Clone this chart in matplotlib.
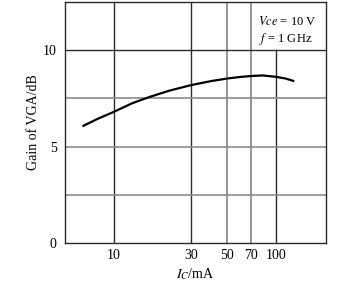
import matplotlib
matplotlib.use("Agg")
import matplotlib.pyplot as plt

plt.rcParams['font.family'] = ['Liberation Serif', 'DejaVu Serif']
plt.rcParams['mathtext.fontset'] = 'stix'

# gain curve
ic_ma = [6.5, 8, 10, 13, 16.7, 22, 30, 40, 50, 60, 70, 83, 100, 115, 128]
gain_db = [6.08, 6.45, 6.8, 7.25, 7.58, 7.9, 8.19, 8.4, 8.53, 8.61, 8.66, 8.69, 8.62, 8.53, 8.41]

dark_x = [10, 30]
gray_x = [50, 70]
gray_y = [2.5, 5, 7.5]
xtick_vals = [10, 30, 50, 70, 100]
xtick_labels = ['10', '30', '50', '70', '100']
ytick_vals = [0, 5, 10]

fig = plt.figure(figsize=(3.41, 2.87), dpi=100)
ax = fig.add_axes([65/341, 1-243/287, 261/341, 241/287])

ax.set_xscale('log')
ax.set_xlim(5, 204)
ax.set_ylim(0, 12.5)

dark = '#2a2a2a'
gray = '#8c8c8c'
for x in dark_x:
    ax.axvline(x, color=dark, lw=1.0, zorder=1)
for x in gray_x:
    ax.axvline(x, color=gray, lw=1.3, zorder=1)
# 100 line stops under the text box
ax.axvline(100, ymax=10/12.5, color=dark, lw=1.0, zorder=1)
for y in gray_y:
    ax.axhline(y, color=gray, lw=1.2, zorder=1)
ax.axhline(10, color=dark, lw=1.0, zorder=1)

ax.plot(ic_ma, gain_db, color='black', lw=1.6, zorder=3)

ax.set_xticks(xtick_vals)
ax.set_xticklabels(xtick_labels)
ax.xaxis.set_minor_locator(matplotlib.ticker.NullLocator())
ax.set_yticks(ytick_vals)
ax.tick_params(length=0, labelsize=10, pad=4)
ax.tick_params(axis='y', pad=6)
for s in ax.spines.values():
    s.set_color(dark)
    s.set_linewidth(1.0)

ax.set_xlabel('$I_C$/mA', fontsize=10, labelpad=3)
ax.set_ylabel('Gain of VGA/dB', fontsize=10, labelpad=2)

ax.text(0.965, 0.945, '$\\it{Vce}$ = 10 V', transform=ax.transAxes,
        ha='right', va='top', fontsize=9)
ax.text(0.745, 0.88, '$\\it{f}$ = 1 GHz', transform=ax.transAxes,
        ha='left', va='top', fontsize=9)

fig.savefig('out.png', dpi=100)
